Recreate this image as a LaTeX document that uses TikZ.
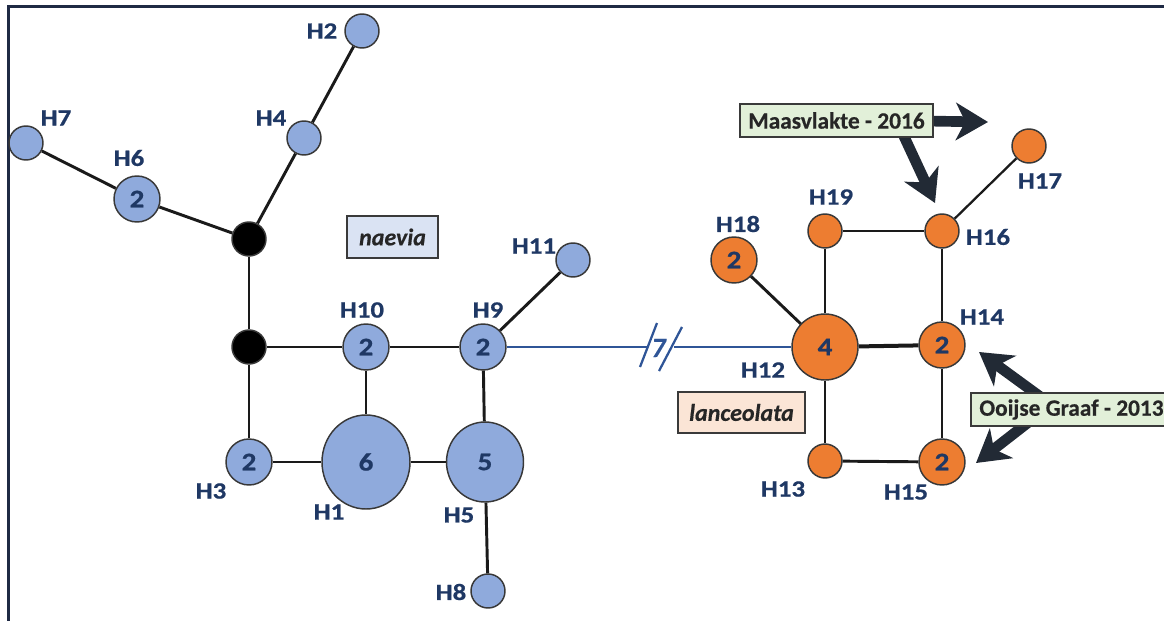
\documentclass[tikz,border=0pt]{standalone}
\usepackage{fontspec}
\setmainfont{Carlito}[BoldFeatures={FakeBold=0.5},BoldItalicFeatures={FakeBold=0.4}]
\newfontfamily\widefont{Carlito}[FakeStretch=1.15,BoldFeatures={FakeBold=0.7}]
\usetikzlibrary{arrows.meta,shapes.geometric}

\definecolor{hapblue}{HTML}{8FAADC}
\definecolor{haporange}{HTML}{ED7D31}
\definecolor{labelblue}{HTML}{1F3864}
\definecolor{linkblue}{HTML}{2F5597}
\definecolor{arrownavy}{HTML}{222A35}
\definecolor{framecol}{HTML}{1F2A44}
\definecolor{nvfill}{HTML}{DAE3F3}
\definecolor{lcfill}{HTML}{FBE5D6}
\definecolor{sitefill}{HTML}{E2F0D9}
\definecolor{boxline}{HTML}{3A3A3A}
\definecolor{boxtext}{HTML}{262626}
\definecolor{edgecol}{HTML}{1A1A1A}

\begin{document}
\begin{tikzpicture}[x=0.75pt,y=-0.75pt,
  hap/.style={circle,draw=black!78,line width=1.1pt,inner sep=0pt,
    font=\widefont\bfseries\fontsize{19}{19}\selectfont,text=labelblue},
  smallhap/.style={hap,minimum size=25.5pt},
  midhap/.style={hap,minimum size=34.5pt},
  bluehap/.style={fill=hapblue},
  orangehap/.style={fill=haporange},
  median/.style={hap,minimum size=25.5pt,fill=black},
  hlabel/.style={text=labelblue,inner sep=0pt,
    font=\widefont\bfseries\fontsize{17.5}{17.5}\selectfont},
  link/.style={draw=edgecol,line width=2.2pt},
  thicklink/.style={draw=edgecol,line width=3pt},
  thinlink/.style={draw=edgecol,line width=1.7pt},
  bluelink/.style={draw=linkblue,line width=1.7pt},
  bigarrow/.style={draw=arrownavy,line width=8pt,
    -{Stealth[length=24pt,width=28pt,inset=7pt]}},
  taxonbox/.style={draw=boxline,line width=1.2pt,inner sep=0pt,text=boxtext,
    font=\bfseries\itshape\fontsize{18}{18}\selectfont},
  sitebox/.style={draw=boxline,line width=1.2pt,inner sep=0pt,fill=sitefill,
    text=boxtext,font=\bfseries\fontsize{17.5}{17.5}\selectfont}
]
\useasboundingbox (0,0) rectangle (1164,621);
\clip (0,0) rectangle (1164,621);

% outer frame (open to the right and bottom)
\draw[framecol,line width=2.25pt] (8,621) -- (8,6) -- (1164,6);

% haplotype nodes: naevia
\node[median] (Bu) at (249,239) {};
\node[median] (Bl) at (249,347) {};
\node[hap,bluehap,ellipse,minimum width=66pt,minimum height=70.5pt] (H1) at (366,462) {6};
\node[smallhap,bluehap] (H2) at (362,31) {};
\node[midhap,bluehap] (H3) at (249,462) {2};
\node[smallhap,bluehap] (H4) at (304,138) {};
\node[hap,bluehap,ellipse,minimum width=57.75pt,minimum height=60pt] (H5) at (485,462) {5};
\node[midhap,bluehap] (H6) at (137,199) {2};
\node[smallhap,bluehap] (H7) at (26,143) {};
\node[smallhap,bluehap] (H8) at (488,591) {};
\node[midhap,bluehap] (H9) at (483,347) {2};
\node[midhap,bluehap] (H10) at (366,347) {2};
\node[smallhap,bluehap] (H11) at (573,260) {};

% haplotype nodes: lanceolata
\node[hap,orangehap,minimum size=49.5pt] (H12) at (825,347) {4};
\node[smallhap,orangehap] (H13) at (825,461) {};
\node[midhap,orangehap] (H14) at (942,345) {2};
\node[midhap,orangehap] (H15) at (942,462) {2};
\node[smallhap,orangehap] (H16) at (942,231) {};
\node[smallhap,orangehap] (H17) at (1029,146) {};
\node[midhap,orangehap] (H18) at (734,260) {2};
\node[smallhap,orangehap] (H19) at (825,231) {};

% network edges
\draw[link] (H7) -- (H6);
\draw[link] (H6) -- (Bu);
\draw[link] (H2) -- (H4);
\draw[link] (H4) -- (Bu);
\draw[link] (Bu) -- (Bl);
\draw[link] (Bl) -- (H10);
\draw[link] (H10) -- (H9);
\draw[link] (Bl) -- (H3);
\draw[link] (H3) -- (H1);
\draw[link] (H10) -- (H1);
\draw[link] (H1) -- (H5);
\draw[link] (H9) -- (H5);
\draw[link] (H5) -- (H8);
\draw[link] (H9) -- (H11);

\draw[link] (H18) -- (H12);
\draw[link] (H12) -- (H19);
\draw[thicklink] (H12) -- (H14);
\draw[link] (H12) -- (H13);
\draw[link] (H19) -- (H16);
\draw[link] (H16) -- (H14);
\draw[link] (H14) -- (H15);
\draw[link] (H13) -- (H15);
\draw[thinlink] (H16) -- (H17);

% long branch between the two species, broken with 7 steps
\coordinate (brkL) at (647,347);
\coordinate (brkR) at (674,347);
\draw[bluelink] (H9) -- (brkL);
\draw[bluelink] (brkR) -- (H12);
\draw[bluelink] (640,367) -- (657,323);
\draw[bluelink] (659,371) -- (682,327);
\node[text=linkblue,inner sep=0pt,font=\bfseries\fontsize{21}{21}\selectfont]
  (steps) at (659,348) {\textit{7}};

% haplotype labels
\node[hlabel] (lH1) at (329,512) {H1};
\node[hlabel] (lH2) at (322,31) {H2};
\node[hlabel] (lH3) at (211,491) {H3};
\node[hlabel] (lH4) at (271,118) {H4};
\node[hlabel] (lH5) at (459,515) {H5};
\node[hlabel] (lH6) at (129,158) {H6};
\node[hlabel] (lH7) at (56,118) {H7};
\node[hlabel] (lH8) at (451,592) {H8};
\node[hlabel] (lH9) at (488,310) {H9};
\node[hlabel] (lH10) at (362,310) {H10};
\node[hlabel] (lH11) at (534,246) {H11};
\node[hlabel] (lH12) at (763,370) {H12};
\node[hlabel] (lH13) at (783,489) {H13};
\node[hlabel] (lH14) at (982,317) {H14};
\node[hlabel] (lH15) at (906,492) {H15};
\node[hlabel] (lH16) at (988,237) {H16};
\node[hlabel] (lH17) at (1040,181) {H17};
\node[hlabel] (lH18) at (738,224) {H18};
\node[hlabel] (lH19) at (831,197) {H19};

% species boxes
\node[taxonbox,fill=nvfill,minimum width=68.25pt,minimum height=31.5pt]
  (naevia) at (392.5,237) {naevia};
\node[taxonbox,fill=lcfill,minimum width=95.25pt,minimum height=30.75pt]
  (lanceolata) at (741.5,412.5) {lanceolata};

% pointers from the sampling sites (tails hidden under the site boxes)
\coordinate (maasC) at (836.5,120.5);
\coordinate (ooijC) at (1071.5,409.5);
\coordinate (maasR) at (988,122);
\coordinate (maasD) at (935,203);
\coordinate (ooijU) at (979,352);
\coordinate (ooijD) at (976,463);
\coordinate (maasTailR) at (925,121);
\coordinate (maasTailD) at (902,132);
\coordinate (ooijTailU) at (1042,398);
\coordinate (ooijTailD) at (1030,421);

\draw[bigarrow] (maasTailR) -- (maasR);
\draw[bigarrow] (maasTailD) -- (maasD);
\draw[bigarrow] (ooijTailU) -- (ooijU);
\draw[bigarrow] (ooijTailD) -- (ooijD);

% sampling sites
\node[sitebox,minimum width=144.75pt,minimum height=24.75pt]
  (maas) at (maasC) {Maasvlakte - 2016};
\node[sitebox,minimum width=150.75pt,minimum height=24.75pt]
  (ooij) at (ooijC) {Ooijse Graaf - 2013};
\end{tikzpicture}
\end{document}
